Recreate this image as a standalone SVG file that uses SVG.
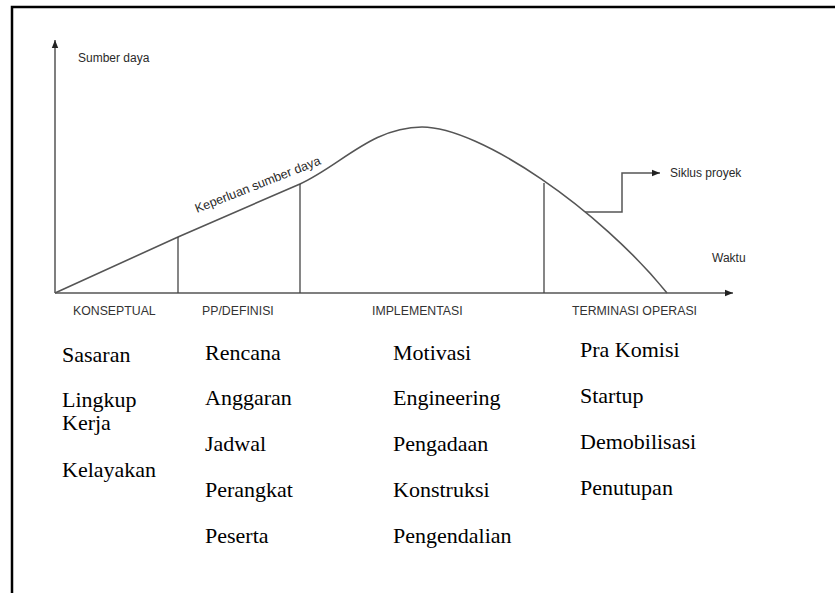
<svg xmlns="http://www.w3.org/2000/svg" width="835" height="593" viewBox="0 0 835 593">
<defs>
<marker id="ah" viewBox="0 0 10 10" refX="10" refY="5" markerWidth="8" markerHeight="8" markerUnits="userSpaceOnUse" orient="auto"><path d="M0,1 L10,5 L0,9 z" fill="#222"/></marker>
<style>
.frame{fill:none;stroke:#000;stroke-width:2.5}
.ax{fill:none;stroke:#555;stroke-width:1.5}
.cv{fill:none;stroke:#555;stroke-width:1.6}
.vl{fill:none;stroke:#444;stroke-width:1.3}
.sm{font-family:"Liberation Sans",Arial,sans-serif;font-size:12px;fill:#2a2a2a}
.kp{font-family:"Liberation Sans",Arial,sans-serif;font-size:12.6px;fill:#2a2a2a}
.ph{font-family:"Liberation Sans",Arial,sans-serif;font-size:12.3px;fill:#333}
.it{font-family:"Liberation Serif","Times New Roman",serif;font-size:22px;fill:#000}
</style>
</defs>
<rect width="835" height="593" fill="#fff"/>
<path class="frame" d="M12,600 V7 H840"/>
<g id="axes">
<path class="ax" d="M55,293 V40" marker-end="url(#ah)"/>
<path class="ax" d="M55,293 H733" marker-end="url(#ah)"/>
<text class="sm" x="78" y="62">Sumber daya</text>
<text class="sm" x="712" y="262">Waktu</text>
</g>
<g id="curve">
<path class="cv" d="M55,293 L178,237 L300,184 C340,166 372,127 422,127 C480,127 600,210 667,293"/>
<text class="kp" transform="translate(197,213) rotate(-21.5)">Keperluan sumber daya</text>
</g>
<g id="connectors">
<path class="vl" d="M178,237 V293"/>
<path class="vl" d="M300,184 V293"/>
<path class="vl" d="M544,183 V293"/>
<path class="ax" d="M585,212 H622 V173 H660" marker-end="url(#ah)"/>
</g>
<g id="siklus"><text class="sm" x="670" y="177">Siklus proyek</text></g>
<g id="konseptual">
<text class="ph" x="73" y="315">KONSEPTUAL</text>
<text class="it" x="62" y="362">Sasaran</text>
<text class="it" x="62" y="407">Lingkup</text>
<text class="it" x="62" y="430">Kerja</text>
<text class="it" x="62" y="477">Kelayakan</text>
</g>
<g id="definisi">
<text class="ph" x="202" y="315">PP/DEFINISI</text>
<text class="it" x="205" y="360">Rencana</text>
<text class="it" x="205" y="405">Anggaran</text>
<text class="it" x="205" y="451">Jadwal</text>
<text class="it" x="205" y="497">Perangkat</text>
<text class="it" x="205" y="543">Peserta</text>
</g>
<g id="implementasi">
<text class="ph" x="372" y="315">IMPLEMENTASI</text>
<text class="it" x="393" y="360">Motivasi</text>
<text class="it" x="393" y="405">Engineering</text>
<text class="it" x="393" y="451">Pengadaan</text>
<text class="it" x="393" y="497">Konstruksi</text>
<text class="it" x="393" y="543">Pengendalian</text>
</g>
<g id="terminasi">
<text class="ph" x="572" y="315">TERMINASI OPERASI</text>
<text class="it" x="580" y="357">Pra Komisi</text>
<text class="it" x="580" y="403">Startup</text>
<text class="it" x="580" y="449">Demobilisasi</text>
<text class="it" x="580" y="495">Penutupan</text>
</g>
</svg>
